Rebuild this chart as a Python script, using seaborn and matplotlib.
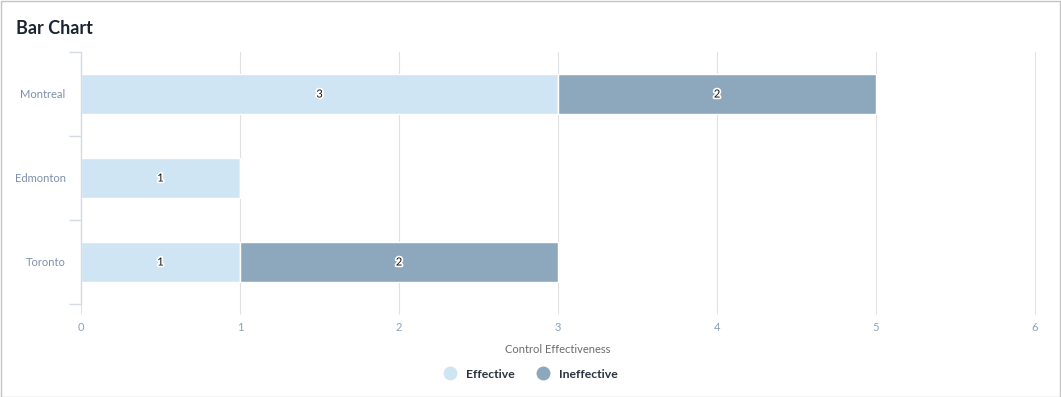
import matplotlib
matplotlib.use("Agg")
import matplotlib.pyplot as plt
import matplotlib.patheffects as pe
from matplotlib.lines import Line2D
from matplotlib.patches import Rectangle
import seaborn as sns
import pandas as pd

cities = ["Montreal", "Edmonton", "Toronto"]
effective = [3, 1, 1]
ineffective = [2, 0, 2]
x_ticks = [0, 1, 2, 3, 4, 5, 6]

c_eff = "#cfe5f4"
c_ineff = "#8da7bd"
grid_c = "#e0e0e3"

sns.set_style("white")
plt.rcParams["font.family"] = ["Lato", "DejaVu Sans"]

df = pd.DataFrame({"city": cities, "Effective": effective, "Ineffective": ineffective})

fig = plt.figure(figsize=(10.61, 3.97), dpi=100)
ax = fig.add_axes([81 / 1061, 1 - 304 / 397, (1035 - 81) / 1061, 252 / 397])

sns.barplot(data=df, y="city", x="Effective", color=c_eff, orient="h", width=0.465, saturation=1,
            edgecolor="white", linewidth=1, ax=ax, zorder=2)
sns.barplot(data=df, y="city", x="Ineffective", color=c_ineff, orient="h", width=0.465, saturation=1,
            edgecolor="white", linewidth=1, ax=ax, zorder=2)

# move the second series so it stacks after the first
cont_eff, cont_ineff = ax.containers[0], ax.containers[1]
for patch, e in zip(cont_ineff, effective):
    patch.set_x(e)

halo = [pe.withStroke(linewidth=2.5, foreground="white")]
for cont, vals in [(cont_eff, effective), (cont_ineff, ineffective)]:
    texts = ax.bar_label(cont, labels=[str(v) if v else "" for v in vals], label_type="center",
                         fontsize=8, color="#111111")
    for t in texts:
        t.set_path_effects(halo)

ax.set_xlim(0, 6)
ax.set_ylim(2.5, -0.5)
ax.set_xticks(x_ticks)
ax.set_xticklabels([str(v) for v in x_ticks])
ax.grid(axis="x", color=grid_c, linewidth=0.8, zorder=0)
for gl in ax.get_xgridlines():
    gl.set_clip_on(False)
ax.set_axisbelow(True)
for s in ["top", "right", "bottom"]:
    ax.spines[s].set_visible(False)
ax.spines["left"].set_color("#d3dbe7")
ax.spines["left"].set_linewidth(1)

ax.set_yticks([0, 1, 2])
ax.set_yticklabels(cities)
ax.set_yticks([-0.5, 0.5, 1.5, 2.5], minor=True)
ax.tick_params(axis="y", which="major", length=0, pad=11, labelsize=8, labelcolor="#7d8fab")
ax.tick_params(axis="y", which="minor", length=9, width=1, color="#d3dbe7", left=True)
ax.tick_params(axis="x", length=7, width=0.8, color=grid_c, labelsize=8, labelcolor="#8aa0b8", pad=6, bottom=True)

ax.set_ylabel("")
ax.set_xlabel("Control Effectiveness", fontsize=8, color="#6b6b6b", labelpad=8)

fig.text(16 / 1061, 1 - 28 / 397, "Bar Chart", fontsize=13, fontweight="bold", color="#1b2433", va="center")

handles = [Line2D([], [], marker="o", linestyle="", markersize=9, color=c) for c in [c_eff, c_ineff]]
fig.legend(handles, ["Effective", "Ineffective"], loc="center", bbox_to_anchor=(528 / 1061, 1 - 374 / 397),
           ncol=2, frameon=False, handletextpad=0.3, columnspacing=1.3,
           prop={"size": 8.8, "weight": "bold"}, labelcolor="#2b3340")

fig.patches.append(Rectangle((0.5 / 1061, 0.5 / 397), 1 - 1.5 / 1061, 1 - 1.5 / 397, transform=fig.transFigure,
                             fill=False, edgecolor="#c4c4c4", linewidth=1))

fig.savefig("out.png", dpi=100)
